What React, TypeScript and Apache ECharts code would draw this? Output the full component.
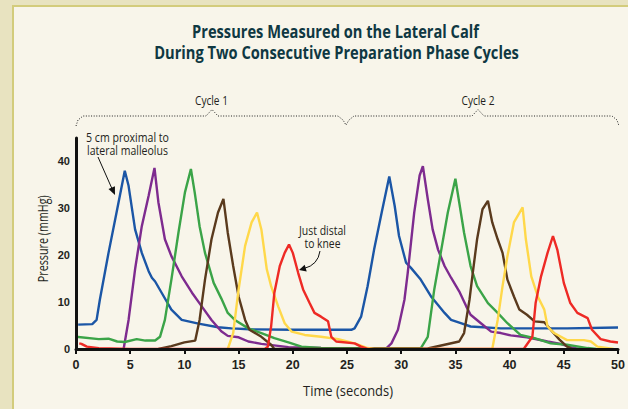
import React, { useEffect, useRef } from "react";
import * as echarts from "echarts";

const TITLE_LINES = [
  "Pressures Measured on the Lateral Calf",
  "During Two Consecutive Preparation Phase Cycles",
];
const X_NAME = "Time (seconds)";
const Y_NAME = "Pressure (mmHg)";
const CYCLE_LABELS = ["Cycle 1", "Cycle 2"];
const NOTE_PROXIMAL = ["5 cm proximal to", "lateral malleolus"];
const NOTE_DISTAL = ["Just distal", "to knee"];

const SERIES_NAMES = ["blue", "purple", "green", "brown", "yellow", "red"];
const SERIES_COLORS = ["#1B56A6", "#7E2B8F", "#3BA448", "#5A3A1D", "#FFD84A", "#EE2A25"];

const blueData = [
  [0.2, 5.2], [1.5, 5.3], [1.9, 6.2], [2.2, 10.5], [3.0, 20.5], [3.8, 29.8], [4.5, 38],
  [4.85, 34.8], [5.45, 25.5], [6.07, 20.5], [6.7, 16.6], [7.0, 15.2], [7.3, 14.4], [7.9, 12],
  [8.8, 8.4], [9.75, 6.2], [11.3, 5.4], [13.1, 4.65], [14.35, 4.4], [16, 4.2], [20, 4.1],
  [25.4, 4.1], [25.7, 4.4], [26.3, 6.9], [26.9, 13.4], [27.5, 21.2], [28.2, 29.1], [28.9, 36.8],
  [29.4, 30.5], [29.8, 24.1], [30.45, 18.4], [30.9, 17.3], [31.8, 14.8], [32.75, 11.2],
  [33.4, 9.4], [34, 7.7], [34.6, 6.2], [35.5, 5.5], [36.4, 4.8], [39.2, 4.4], [45.3, 4.4],
  [50, 4.6],
];
const purpleData = [
  [4.4, 0.1], [4.85, 6.2], [5.45, 17], [6.07, 26.2], [6.7, 32.7], [7.24, 38.6], [7.6, 31.3],
  [8.2, 23.4], [8.8, 19.8], [9.75, 15.5], [10.7, 12], [11.6, 9.1], [12.5, 6.2], [13.4, 3.8],
  [14, 2.8], [15, 2.5], [15.9, 1.6], [17.1, 1.1], [19.6, 0.4], [22.6, 0.2], [28.6, 0.1],
  [29.1, 1.2], [29.7, 4.1], [30.3, 10.5], [30.6, 16.2], [31.2, 29.1], [31.7, 37], [32, 39],
  [32.45, 32], [32.9, 25.5], [33.4, 21.2], [34, 17.7], [34.6, 15.2], [35.35, 12.3], [36, 9.1],
  [36.4, 7.3], [37.35, 5.5], [38.3, 3.7], [39.2, 3.4], [40.1, 2.9], [41.6, 2.5], [43.5, 1.6],
  [44.7, 1.1], [45.9, 0.2], [46.5, 0],
];
const greenData = [
  [0, 2.6], [2.1, 2.1], [3, 2.2], [3.8, 1.6], [4.5, 1.5], [5.6, 2.1], [6.4, 1.8], [7.3, 1.8],
  [7.75, 2.6], [8.2, 6.2], [8.8, 14.8], [9.45, 24.8], [10.05, 33.4], [10.6, 38.4], [10.95, 33.4],
  [11.4, 26.2], [11.9, 20.5], [12.7, 14.1], [13.4, 10.8], [14, 7.7], [14.65, 6.2], [15.9, 4.4],
  [17.1, 3.4], [18.3, 2.3], [19.6, 1.4], [20.8, 0.5], [22.6, 0.2], [31.8, 0.15], [32.45, 2.6],
  [33.05, 12.7], [33.7, 21.2], [34.3, 29.1], [35, 36.3], [35.35, 31.3], [35.8, 24.8],
  [36.4, 17.7], [37, 13.4], [38, 9.8], [38.9, 7.7], [39.8, 5.5], [41, 3], [42.3, 2.3],
  [43.8, 1.2], [45.3, 0.9], [47.2, 0.2], [48, 0],
];
const brownData = [
  [7.6, 0], [8.8, 0.6], [10, 1.4], [11, 1.8], [11.4, 6.2], [11.9, 14.8], [12.5, 23.4],
  [13.1, 29.1], [13.6, 32], [14, 24.8], [14.5, 17.7], [15, 11.2], [15.6, 6.2], [16, 4.1],
  [17.1, 2.6], [18, 0.9], [18.3, 0], [32.45, 0.1], [34, 0.9], [35.35, 1.6], [35.8, 3.4],
  [36.3, 10.5], [36.6, 16.2], [37, 23.4], [37.5, 29.8], [38, 31.6], [38.4, 27], [38.9, 23.4],
  [39.35, 20.5], [39.8, 14.8], [40.4, 11.2], [40.9, 8.4], [41.6, 7.3], [42.3, 5.9],
  [43.2, 5.7], [43.95, 3.7], [44.6, 2], [45.3, 0.5], [45.8, 0],
];
const yellowData = [
  [14, 0], [14.5, 3.4], [15, 12.7], [15.6, 22], [16.2, 27], [16.7, 29.1], [17.1, 25.5],
  [17.6, 17], [18, 13.4], [18.65, 9.1], [19.25, 5.5], [19.9, 3.7], [21.1, 3], [22.6, 2.6],
  [24.2, 2.1], [25.7, 1.2], [26.9, 0.2], [27.5, 0], [38.4, 0], [38.9, 6.2], [39.35, 13.4],
  [39.8, 19.8], [40.4, 27], [41.2, 30.2], [41.5, 23.4], [42, 15.5], [42.6, 11.2], [43.2, 8.4],
  [43.5, 4.8], [44.1, 3.4], [45.3, 1.9], [46.85, 1.9], [47.5, 1.6], [48.1, 0.5], [49.6, 0],
];
const redData = [
  [0.3, 1.2], [0.5, 1.1], [1, 0.5], [2.1, 0.15], [5, 0], [17.4, 0], [17.7, 0.5], [18, 4.8],
  [18.3, 12], [18.8, 17.7], [19.25, 20.5], [19.65, 22.3], [20, 20.5], [20.5, 16.2],
  [20.95, 12.7], [21.55, 9.8], [22, 7.7], [22.6, 6.9], [23.25, 5.9], [23.55, 2.6], [24, 1.6],
  [25.7, 1.2], [26.3, 0.5], [26.9, 0], [41.3, 0], [42.1, 2.6], [42.4, 9.8], [42.9, 15.5],
  [43.5, 20.5], [44, 24.1], [44.4, 21.2], [45, 14.1], [45.6, 9.8], [46.25, 7.7], [47.2, 6.6],
  [47.6, 4.1], [48.4, 2.1], [49.3, 1.6], [50, 1.4],
];
const SERIES_DATA = [blueData, purpleData, greenData, brownData, yellowData, redData];

const X_MIN = 0;
const X_MAX = 50;
const X_STEP = 5;
const Y_MIN = 0;
const Y_MAX = 45;
const Y_STEP = 10;

const SANS = "'Open Sans', 'Liberation Sans', sans-serif";
const TICK_FONT = "'Liberation Sans', Arial, sans-serif";
const INK = "#231F20";

let measureCtx: CanvasRenderingContext2D | null = null;
function measure(text: string, size: number, weight: string, family: string) {
  if (!measureCtx) measureCtx = document.createElement("canvas").getContext("2d");
  if (!measureCtx) return text.length * size * 0.5;
  measureCtx.font = `${weight} ${size}px ${family}`;
  return measureCtx.measureText(text).width;
}

// text squeezed horizontally to a target width (condensed-face look)
function fitText(
  text: string,
  cx: number,
  cy: number,
  targetW: number,
  size: number,
  weight: string,
  color: string,
  rotation = 0
) {
  const w = measure(text, size, weight, SANS);
  const s = Math.min(1.2, targetW / w);
  return {
    type: "text",
    x: cx,
    y: cy,
    rotation,
    scaleX: s,
    silent: true,
    style: {
      text,
      fontFamily: SANS,
      fontSize: size,
      fontWeight: weight,
      fill: color,
      align: "center",
      verticalAlign: "middle",
    },
  };
}

export default function App() {
  const ref = useRef<HTMLDivElement>(null);

  useEffect(() => {
    document.body.style.margin = "0";
    if (!ref.current) return;
    const chart = echarts.init(ref.current, null, { renderer: "svg" });

    const braceStyle = { stroke: "#222", lineWidth: 1, lineDash: [1, 1.6], fill: null };

    chart.setOption({
      animation: false,
      grid: { left: 76, right: 10, top: 138, bottom: 60, containLabel: false },
      xAxis: {
        type: "value",
        min: X_MIN,
        max: X_MAX,
        interval: X_STEP,
        z: 5,
        axisLine: { show: true, lineStyle: { color: "#111", width: 3 } },
        axisTick: { show: true, length: 5, lineStyle: { color: "#111", width: 2 } },
        axisLabel: { fontFamily: TICK_FONT, fontSize: 12.5, fontWeight: "bold", color: INK, margin: 9 },
        splitLine: { show: false },
      },
      yAxis: {
        type: "value",
        min: Y_MIN,
        max: Y_MAX,
        interval: Y_STEP,
        z: 5,
        axisLine: { show: true, lineStyle: { color: "#111", width: 3 } },
        axisTick: { show: false },
        axisLabel: {
          fontFamily: TICK_FONT,
          fontSize: 11,
          fontWeight: "bold",
          color: INK,
          margin: 6,
          formatter: (v: number) => (v % Y_STEP === 0 ? String(v) : ""),
        },
        splitLine: { show: false },
      },
      series: SERIES_DATA.map((d, i) => ({
        name: SERIES_NAMES[i],
        type: "line",
        data: d,
        showSymbol: false,
        symbol: "none",
        lineStyle: { color: SERIES_COLORS[i], width: 2.4 },
        z: 2,
      })),
      graphic: [
        fitText(TITLE_LINES[0], 335.5, 31, 287, 18, "bold", "#0F3842"),
        fitText(TITLE_LINES[1], 336.5, 52, 365, 18, "bold", "#0F3842"),
        {
          type: "polyline",
          shape: {
            points: [
              [76, 126], [78, 120], [83, 116], [206, 116], [212, 109.5], [218, 116], [338, 116],
              [343, 120], [346, 125], [349, 120], [354, 116], [472, 116], [478, 109.5], [484, 116],
              [612, 116], [617, 120], [619, 126],
            ],
          },
          style: braceStyle,
          silent: true,
        },
        fitText(CYCLE_LABELS[0], 211.5, 100, 33, 13, "normal", INK),
        fitText(CYCLE_LABELS[1], 478, 100, 33, 13, "normal", INK),
        fitText(NOTE_PROXIMAL[0], 127.5, 137, 83, 13.5, "normal", INK),
        fitText(NOTE_PROXIMAL[1], 127.5, 150, 81, 13.5, "normal", INK),
        {
          type: "line",
          shape: { x1: 98, y1: 157, x2: 113, y2: 191 },
          style: { stroke: "#111", lineWidth: 1 },
        },
        {
          type: "polygon",
          shape: { points: [[115, 195], [108.5, 189.1], [114.9, 186.3]] },
          style: { fill: "#111" },
        },
        fitText(NOTE_DISTAL[0], 322.5, 229.5, 47, 13.5, "normal", INK),
        fitText(NOTE_DISTAL[1], 322.5, 243, 36, 13.5, "normal", INK),
        {
          type: "bezierCurve",
          shape: { x1: 320, y1: 251, cpx1: 318, cpy1: 265, x2: 304, y2: 268.5 },
          style: { stroke: "#111", lineWidth: 1, fill: null },
        },
        {
          type: "polygon",
          shape: { points: [[299, 270], [306.7, 271.4], [304.7, 264.7]] },
          style: { fill: "#111" },
        },
        fitText(Y_NAME, 43, 238.7, 87, 14, "normal", INK, Math.PI / 2),
        fitText(X_NAME, 348, 390, 90, 15, "normal", INK),
      ],
    });

    return () => chart.dispose();
  }, []);

  return (
    <div style={{ position: "relative", width: 628, height: 409, background: "#E8E3C0", overflow: "hidden" }}>
      <div
        style={{
          position: "absolute",
          left: 12,
          top: 5,
          right: 0,
          bottom: 0,
          background: "#F8F5EA",
          borderLeft: "2px solid #D3CC7C",
          borderTop: "2px solid #D3CC7C",
        }}
      />
      <div ref={ref} style={{ position: "absolute", left: 0, top: 0, width: 628, height: 409 }} />
    </div>
  );
}
